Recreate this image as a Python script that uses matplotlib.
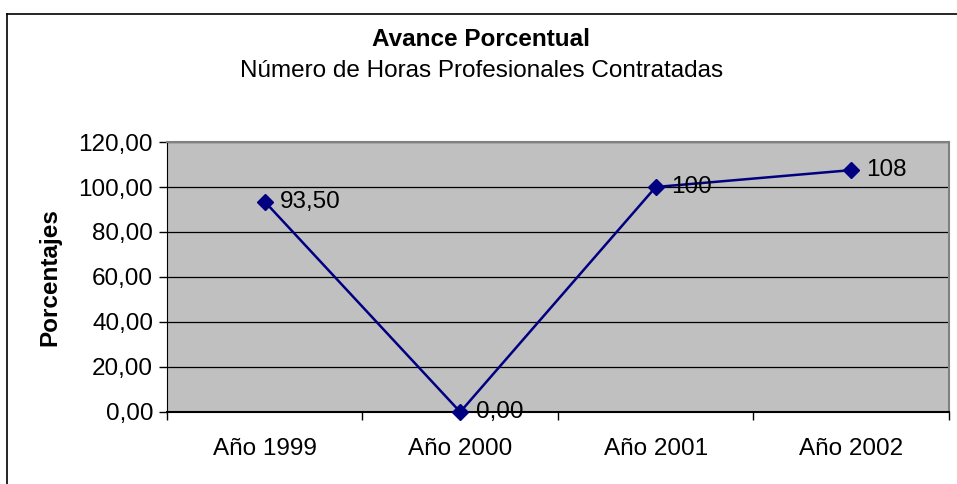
import matplotlib.pyplot as plt
from matplotlib.lines import Line2D

plt.rcParams['font.family'] = ['Liberation Sans', 'DejaVu Sans']

years = ['Año 1999', 'Año 2000', 'Año 2001', 'Año 2002']
avance = [93.5, 0.0, 100.0, 107.5]
avance_labels = ['93,50', '0,00', '100', '108']
y_ticks = [0, 20, 40, 60, 80, 100, 120]

fs = 17.5

fig = plt.figure(figsize=(9.57, 4.84), dpi=100)
ax = fig.add_axes([0.1745, 0.1488, 0.8171, 0.5578])

# outer chart frame (left and top edges visible)
fig.add_artist(Line2D([0.0073, 0.0073], [0, 0.971], color='black', lw=1.2, transform=fig.transFigure))
fig.add_artist(Line2D([0.0073, 1.0], [0.971, 0.971], color='black', lw=1.2, transform=fig.transFigure))

ax.set_facecolor('#C0C0C0')
x = list(range(len(years)))
ax.plot(x, avance, color='#000080', lw=1.8, marker='D', markersize=8.5, zorder=3, clip_on=False)

for xi, yi, lab in zip(x, avance, avance_labels):
    ax.annotate(lab, (xi, yi), xytext=(11, 0), textcoords='offset points',
                va='center', ha='left', fontsize=fs, zorder=4)

ax.set_xlim(-0.5, 3.5)
ax.set_ylim(0, 120)
ax.set_yticks(y_ticks)
ax.set_yticklabels([('%.2f' % v).replace('.', ',') for v in y_ticks])
ax.set_xticks(x)
ax.set_xticklabels(years)
ax.set_xticks([-0.5, 0.5, 1.5, 2.5, 3.5], minor=True)
ax.tick_params(axis='x', which='major', length=0, pad=19, labelsize=fs)
ax.tick_params(axis='x', which='minor', length=6, width=1, direction='out')
ax.tick_params(axis='y', length=6, width=1, direction='out', pad=4, labelsize=fs)

ax.grid(axis='y', color='black', lw=0.9)
ax.set_axisbelow(True)
for side in ['top', 'right']:
    ax.spines[side].set_color('#808080')
    ax.spines[side].set_linewidth(1.5)
ax.spines['left'].set_color('black')
ax.spines['bottom'].set_color('black')
ax.spines['bottom'].set_linewidth(1.5)

ax.set_ylabel('Porcentajes', fontsize=fs, fontweight='bold', labelpad=12)

fig.text(0.503, 0.919, 'Avance Porcentual', ha='center', va='center',
         fontsize=fs, fontweight='bold')
fig.text(0.503, 0.853, 'Número de Horas Profesionales Contratadas', ha='center',
         va='center', fontsize=fs)

fig.savefig('out.png', dpi=100)
